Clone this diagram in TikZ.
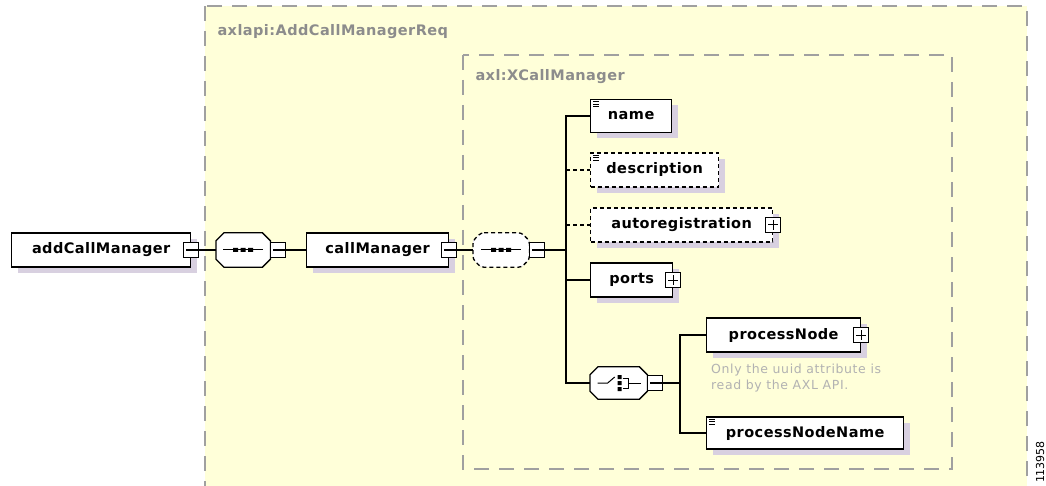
\documentclass[tikz,border=0pt]{standalone}
\usepackage{fontspec}
\setmainfont{DejaVu Sans}
\newfontfamily\xsdfont[LetterSpace=3]{DejaVu Sans}
\newfontfamily\xsdnotefont[LetterSpace=5]{DejaVu Sans}
\usetikzlibrary{shadows}

\definecolor{xsdbg}{RGB}{255,255,217}
\definecolor{xsdframe}{RGB}{160,160,160}
\definecolor{xsdshade}{RGB}{216,208,224}
\definecolor{xsdlabel}{RGB}{140,140,140}
\definecolor{xsdnote}{RGB}{178,178,178}

\tikzset{
  x=1pt, y=-1pt,
  frame/.style={draw=xsdframe, fill=xsdbg, line width=2pt, dash pattern=on 15pt off 10pt},
  elem/.style={draw, line width=1.3pt, fill=white, anchor=west, minimum height=34pt, inner sep=0pt,
    font=\xsdfont\bfseries\fontsize{14.5}{16}\selectfont,
    drop shadow={shadow xshift=6pt, shadow yshift=-6pt, fill=xsdshade, opacity=1}},
  optdash/.style={dash pattern=on 4pt off 3pt},
  optelem/.style={elem, optdash},
  comp/.style={anchor=west, minimum height=34pt, inner sep=0pt},
  tog/.style={draw, line width=1pt, fill=white, minimum size=15pt, inner sep=0pt},
  conn/.style={line width=1.2pt},
  seqmark/.pic={
    \draw[line width=1pt] (-20,0) -- (20,0);
    \fill (-10,-2) rectangle (-5,2) (-2.5,-2) rectangle (2.5,2) (5,-2) rectangle (10,2);
  },
  choicemark/.pic={
    \draw[line width=1pt] (-21,0) -- (-11,0) -- (-4,-6);
    \fill (-1,-8) rectangle (3,-4) (-1,-2) rectangle (3,2) (-1,4) rectangle (3,8);
    \draw[line width=1pt] (4,-5) -- (10,-5) -- (10,5) -- (4,5) (10,0) -- (22,0);
  },
  docmark/.pic={
    \draw[line width=0.9pt] (0,0) -- (6,0) (0,2.5) -- (6,2.5) (0,5) -- (6,5);
  }
}

% octagon outline (with its shadow) round a compositor node
\newcommand\octpath[1]{([xshift=8pt]#1.north west) -- ([xshift=-8pt]#1.north east)
  -- ([yshift=-8pt]#1.north east) -- ([yshift=8pt]#1.south east)
  -- ([xshift=-8pt]#1.south east) -- ([xshift=8pt]#1.south west)
  -- ([yshift=8pt]#1.south west) -- ([yshift=-8pt]#1.north west) -- cycle}
\newcommand\drawoct[2][]{%
  \fill[xsdshade, shift={(6,6)}] \octpath{#2};
  \draw[line width=1.3pt, fill=white, #1] \octpath{#2};}

\begin{document}
\begin{tikzpicture}
\useasboundingbox (0,0) rectangle (1046,486);

% the two type frames
\draw[frame] (205,6) rectangle (1027,530);
\node[anchor=base west, text=xsdlabel, font=\xsdfont\bfseries\fontsize{14.5}{16}\selectfont] (reqlbl) at (214,36) {axlapi:AddCallManagerReq};
\draw[frame] (463,55) rectangle (952,469);
\node[anchor=base west, text=xsdlabel, font=\xsdfont\bfseries\fontsize{14.5}{16}\selectfont] (typelbl) at (472,81) {axl:XCallManager};

% main chain
\node[elem, minimum width=179pt] (add) at (11,250) {addCallManager};
\node[tog] (addX) at (add.east) {};
\node[comp, minimum width=54pt] (seqA) at (216,250) {};
\drawoct{seqA}
\pic at (seqA.center) {seqmark};
\node[tog, anchor=west] (seqAX) at (seqA.east) {};
\node[elem, minimum width=142pt] (callMgr) at (306,250) {callManager};
\node[tog] (callMgrX) at (callMgr.east) {};
\node[comp, minimum width=56pt] (seqB) at (473,250) {};
\drawoct[optdash, rounded corners=3pt]{seqB}
\pic at (seqB.center) {seqmark};
\node[tog, anchor=west] (seqBX) at (seqB.east) {};

\draw[conn] ([xshift=3pt]addX.west) -- (seqA.west);
\draw[conn] ([xshift=3pt]seqAX.west) -- (callMgr.west);
\draw[conn] ([xshift=3pt]callMgrX.west) -- (seqB.west);

% children of the sequence
\node[elem, minimum width=81pt, minimum height=33pt] (name) at (590,116) {name};
\pic at ([shift={(3,3)}]name.north west) {docmark};
\node[optelem, minimum width=128pt] (desc) at (590,170) {description};
\pic at ([shift={(3,3)}]desc.north west) {docmark};
\node[optelem, minimum width=182pt] (autoreg) at (590,225) {autoregistration};
\node[tog] (autoregX) at (autoreg.east) {};
\node[elem, minimum width=82pt] (ports) at (590,280) {ports};
\node[tog] (portsX) at (ports.east) {};
\node[comp, minimum width=57pt, minimum height=32pt] (choice) at (590,383) {};
\drawoct{choice}
\pic at (choice.center) {choicemark};
\node[tog, anchor=west] (choiceX) at (choice.east) {};

\coordinate (trunk) at (566,250);
\draw[conn] ([xshift=3pt]seqBX.west) -- (trunk);
\draw[conn] (name.west) -| (trunk) |- (choice.west);
\draw[conn] (trunk) |- (ports.west);
\draw[conn, optdash] (desc.west -| trunk) -- (desc.west);
\draw[conn, optdash] (autoreg.west -| trunk) -- (autoreg.west);

% children of the choice
\node[elem, minimum width=154pt] (procNode) at (706,335) {processNode};
\node[tog] (procNodeX) at (procNode.east) {};
\node[anchor=north west, align=left, inner sep=0pt, text=xsdnote, font=\xsdnotefont\fontsize{12.5}{16}\selectfont] (note) at (711,364) {Only the uuid attribute is\\read by the AXL API.};
\node[elem, minimum width=197pt, minimum height=32pt] (procName) at (706,433) {processNodeName};
\pic at ([shift={(3,3)}]procName.north west) {docmark};

\coordinate (ctrunk) at (680,383);
\draw[conn] ([xshift=3pt]choiceX.west) -- (ctrunk);
\draw[conn] (procNode.west) -| (ctrunk) |- (procName.west);

% plus signs
\foreach \s in {autoregX, portsX, procNodeX}
  \draw[line width=1pt] ([xshift=3pt]\s.west) -- ([xshift=-3pt]\s.east)
    ([yshift=-3pt]\s.north) -- ([yshift=3pt]\s.south);

\node[rotate=90, anchor=center, font=\fontsize{11}{13}\selectfont] (figno) at (1040,462) {113958};
\end{tikzpicture}
\end{document}
